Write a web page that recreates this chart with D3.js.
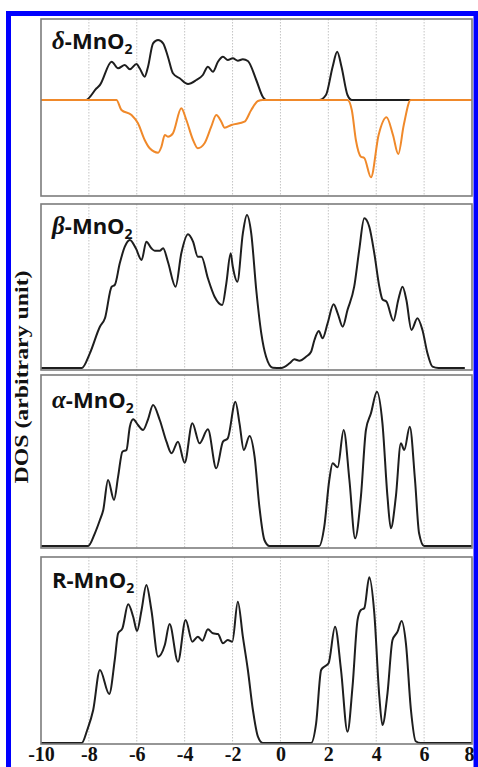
<!DOCTYPE html>
<html>
<head>
<meta charset="utf-8">
<script src="https://cdn.jsdelivr.net/npm/d3@7/dist/d3.min.js"></script>
<style>
  body { margin: 0; background: #fff; }
</style>
</head>
<body>
<script>
//////////////// Datas ////////////////////
// energy (eV) vs DOS (arbitrary unit)
var energyTicks = [-10, -8, -6, -4, -2, 0, 2, 4, 6, 8];
var gridTicks = [-8, -6, -4, -2, 0, 2, 4, 6];

var deltaUp = [
  [-10, 0], [-8.13, 0], [-7.68, 1.17], [-7.54, 1.5], [-7.05, 3.83], [-6.78, 3.17],
  [-6.5, 3.5], [-6.29, 3.07], [-6.01, 3.6], [-5.88, 3.17], [-5.67, 2.33], [-5.53, 3.33],
  [-5.32, 5.67], [-5.11, 6.0], [-4.9, 5.67], [-4.7, 4.33], [-4.49, 2.67], [-4.21, 2.17],
  [-3.86, 1.6], [-3.51, 2.0], [-3.24, 2.5], [-3.03, 3.33], [-2.82, 2.83], [-2.61, 3.83],
  [-2.4, 4.33], [-2.2, 4.0], [-1.99, 4.17], [-1.78, 3.93], [-1.57, 4.07], [-1.36, 3.9],
  [-1.01, 2.0], [-0.74, 0.33], [-0.6, 0], [1.62, 0], [1.9, 0.5], [2.18, 3.33],
  [2.37, 4.83], [2.55, 3.33], [2.8, 0.5], [2.98, 0], [8, 0]
];
var deltaDown = [
  [-10, 0], [-6.85, 0], [-6.64, -1.0], [-6.22, -1.5], [-5.95, -2.33], [-5.67, -4.0],
  [-5.46, -4.83], [-5.11, -5.27], [-4.97, -4.67], [-4.83, -3.5], [-4.7, -3.67],
  [-4.49, -3.33], [-4.14, -0.83], [-3.93, -2.0], [-3.65, -4.0], [-3.45, -4.83],
  [-3.17, -4.33], [-2.89, -2.67], [-2.68, -1.5], [-2.47, -2.17], [-2.33, -2.77],
  [-2.05, -2.5], [-1.5, -2.17], [-1.22, -1.0], [-0.94, -0.1], [-0.74, 0], [2.8, 0],
  [2.98, -1.0], [3.15, -4.0], [3.36, -5.67], [3.5, -5.8], [3.78, -7.73], [4.1, -3.5],
  [4.43, -1.73], [4.7, -3.5], [4.92, -5.4], [5.15, -2.5], [5.44, 0], [8, 0]
];
var betaDos = [
  [-10, 0], [-8.3, 0], [-7.96, 1.47], [-7.54, 4.13], [-7.33, 4.97], [-7.05, 8.13],
  [-6.92, 8.3], [-6.71, 10.47], [-6.5, 12.13], [-6.29, 12.8], [-6.04, 11.97], [-5.8, 10.8],
  [-5.6, 12.63], [-5.39, 11.97], [-5.25, 11.73], [-5.04, 11.73], [-4.9, 11.97],
  [-4.7, 10.63], [-4.38, 8.13], [-4.14, 11.47], [-3.86, 13.37], [-3.65, 12.63],
  [-3.45, 11.13], [-3.3, 11.13], [-3.03, 8.97], [-2.75, 7.13], [-2.43, 6.3], [-2.26, 8.47],
  [-2.08, 11.47], [-1.99, 10.13], [-1.8, 8.63], [-1.57, 13.47], [-1.4, 15.3], [-1.22, 13.47],
  [-1.01, 7.8], [-0.8, 3.47], [-0.6, 1.13], [-0.32, 0.03], [0.03, 0], [0.38, 0.47],
  [0.58, 0.87], [0.79, 0.73], [1.07, 1.13], [1.28, 1.63], [1.42, 2.8], [1.6, 3.7],
  [1.76, 2.97], [1.97, 4.47], [2.22, 6.37], [2.39, 5.47], [2.6, 4.13], [2.8, 5.8],
  [3.08, 8.13], [3.29, 11.8], [3.5, 14.97], [3.71, 14.13], [3.92, 11.47], [4.13, 8.13],
  [4.26, 6.87], [4.43, 6.63], [4.72, 4.73], [4.92, 6.8], [5.1, 8.13], [5.26, 6.8],
  [5.47, 3.8], [5.72, 4.97], [5.93, 3.8], [6.14, 1.47], [6.35, 0.13], [6.6, 0], [7.7, 0]
];
var alphaDos = [
  [-10, 0], [-8.03, 0], [-7.75, 1.27], [-7.54, 2.6], [-7.4, 3.6], [-7.2, 6.6],
  [-6.95, 4.6], [-6.78, 6.93], [-6.6, 9.43], [-6.43, 9.6], [-6.29, 11.93], [-6.15, 12.67],
  [-5.95, 12.1], [-5.74, 11.6], [-5.53, 12.67], [-5.32, 14.1], [-5.04, 12.6], [-4.76, 10.43],
  [-4.55, 9.27], [-4.28, 10.43], [-4.0, 8.33], [-3.68, 12.27], [-3.38, 10.27],
  [-3.03, 11.67], [-2.68, 7.77], [-2.4, 10.43], [-2.2, 10.77], [-1.88, 14.43],
  [-1.71, 12.27], [-1.53, 9.6], [-1.29, 11.0], [-1.08, 8.93], [-0.88, 3.93], [-0.67, 0.6],
  [-0.46, 0], [1.62, 0], [1.83, 1.93], [2.04, 6.6], [2.18, 8.27], [2.39, 7.87],
  [2.64, 11.6], [2.88, 6.6], [3.12, 0.77], [3.36, 4.93], [3.57, 11.6], [3.78, 13.27],
  [4.03, 15.43], [4.26, 12.27], [4.47, 4.93], [4.61, 1.77], [4.82, 4.93], [5.03, 10.27],
  [5.17, 9.6], [5.4, 11.93], [5.62, 6.6], [5.79, 1.27], [6.0, 0], [8, 0]
];
var rutileDos = [
  [-10, 0], [-8.3, 0], [-8.07, 1.3], [-7.82, 3.3], [-7.54, 7.3], [-7.15, 4.9],
  [-6.92, 8.3], [-6.78, 10.97], [-6.6, 11.47], [-6.36, 13.87], [-6.15, 12.63],
  [-5.99, 11.2], [-5.8, 13.3], [-5.6, 15.8], [-5.39, 13.3], [-5.11, 8.63], [-4.83, 9.8],
  [-4.63, 11.9], [-4.28, 8.13], [-3.96, 12.3], [-3.68, 10.13], [-3.45, 10.63],
  [-3.26, 10.23], [-3.03, 11.37], [-2.82, 10.97], [-2.61, 10.9], [-2.4, 9.97],
  [-2.2, 10.3], [-2.01, 10.13], [-1.78, 14.13], [-1.57, 10.63], [-1.36, 7.3],
  [-1.15, 3.3], [-0.94, 0.63], [-0.74, 0], [1.28, 0], [1.49, 1.97], [1.7, 7.3],
  [1.83, 7.63], [2.01, 7.97], [2.28, 11.63], [2.53, 7.3], [2.8, 1.13], [3.01, 5.63],
  [3.22, 12.3], [3.36, 13.3], [3.5, 13.47], [3.71, 16.57], [3.92, 12.97], [4.13, 4.63],
  [4.26, 1.8], [4.47, 4.97], [4.68, 10.3], [4.89, 11.13], [5.06, 12.2], [5.24, 9.97],
  [5.45, 3.3], [5.65, 0.17], [5.85, 0], [8, 0]
];

var phaseSymbols = ["\u03B4", "\u03B2", "\u03B1", "R"];

//////////////// Layout ////////////////////
var W = 478, H = 767;
var panels = [
  {top: 19,  bottom: 196, dom: [-9.6, 8.1],  series: [deltaUp, deltaDown], sym: phaseSymbols[0], titleY: 49, greek: true},
  {top: 204, bottom: 370, dom: [-0.2, 16.4], series: [betaDos],  sym: phaseSymbols[1], titleY: 234, greek: true},
  {top: 375, bottom: 548, dom: [-0.2, 17.1], series: [alphaDos], sym: phaseSymbols[2], titleY: 408, greek: true},
  {top: 557, bottom: 744, dom: [-0.1, 18.6], series: [rutileDos], sym: phaseSymbols[3], titleY: 588, greek: false}
];
var lineColors = ["#1e1e1e", "#f0892a"];

var svg = d3.select("body").append("svg")
  .attr("width", W)
  .attr("height", H)
  .style("display", "block");

// blue outer frame
svg.append("rect")
  .attr("x", 8.5)
  .attr("y", 13.5)
  .attr("width", 467.5)
  .attr("height", H)
  .style("fill", "none")
  .style("stroke", "#0000ff")
  .style("stroke-width", 5);

var xScale = d3.scaleLinear().domain([-10, 8]).range([41, 472]);

panels.forEach(function(p, i) {
  var yScale = d3.scaleLinear().domain(p.dom).range([p.bottom, p.top]);
  var g = svg.append("g").attr("class", "panel" + i);

  // gridlines (dotted)
  g.selectAll("line.grid")
    .data(gridTicks)
    .enter()
    .append("line")
    .attr("class", "grid")
    .attr("x1", function(d) {return xScale(d);})
    .attr("x2", function(d) {return xScale(d);})
    .attr("y1", p.top)
    .attr("y2", p.bottom)
    .style("stroke", "#c4c4c4")
    .style("stroke-width", 1)
    .style("stroke-dasharray", "1.5,1.5");

  var line = d3.line()
    .x(function(d) {return xScale(d[0]);})
    .y(function(d) {return yScale(d[1]);})
    .curve(d3.curveMonotoneX);

  g.selectAll("path.dos")
    .data(p.series)
    .enter()
    .append("path")
    .attr("class", "dos")
    .attr("d", line)
    .style("fill", "none")
    .style("stroke", function(d, k) {return lineColors[k];})
    .style("stroke-width", 2)
    .style("stroke-linejoin", "round");

  // frame
  g.append("rect")
    .attr("x", xScale(-10))
    .attr("y", p.top)
    .attr("width", xScale(8) - xScale(-10))
    .attr("height", p.bottom - p.top)
    .style("fill", "none")
    .style("stroke", "#7c7c7c")
    .style("stroke-width", 1.6);

  // title
  var t = g.append("text")
    .attr("x", 52)
    .attr("y", p.titleY)
    .style("font-family", "'Open Sans', sans-serif")
    .style("font-weight", "bold")
    .style("font-size", "22px")
    .style("fill", "#111");
  t.append("tspan")
    .text(p.sym)
    .style("font-family", p.greek ? "'Liberation Serif', serif" : null)
    .style("font-style", p.greek ? "italic" : null)
    .style("font-size", p.greek ? "25px" : null);
  t.append("tspan").text("-MnO");
  t.append("tspan")
    .text("2")
    .attr("dy", 5)
    .style("font-size", "14px");
});

//////////// Axis /////////////
var xAxis = d3.axisBottom(xScale)
  .tickValues(energyTicks)
  .tickSize(0)
  .tickPadding(3)
  .tickFormat(function(d) {return String(d);});

var axisG = svg.append("g")
  .attr("class", "x axis")
  .attr("transform", "translate(0," + panels[3].bottom + ")")
  .call(xAxis);
axisG.select(".domain").remove();
axisG.selectAll("text")
  .style("font-family", "'Liberation Serif', serif")
  .style("font-weight", "bold")
  .style("font-size", "20px")
  .style("fill", "#111")
  .attr("dx", function(d) {return d === 8 ? -3 : 0;});

svg.append("text")
  .attr("transform", "translate(28,377) rotate(-90)")
  .attr("text-anchor", "middle")
  .attr("textLength", 213)
  .attr("lengthAdjust", "spacingAndGlyphs")
  .style("font-family", "'Liberation Serif', serif")
  .style("font-weight", "bold")
  .style("font-size", "18px")
  .style("fill", "#111")
  .text("DOS (arbitrary unit)");
</script>
</body>
</html>
